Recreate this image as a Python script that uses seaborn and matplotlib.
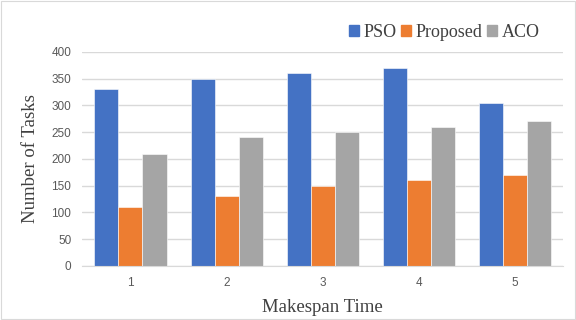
import numpy as np
import pandas as pd
import matplotlib
matplotlib.use("Agg")
import matplotlib.pyplot as plt
import seaborn as sns

# data
makespan = ["1", "2", "3", "4", "5"]
pso = [330, 350, 360, 370, 305]
proposed = [110, 130, 150, 160, 170]
aco = [210, 240, 250, 260, 270]

series_names = ["PSO", "Proposed", "ACO"]
colors = ["#4472C4", "#ED7D31", "#A5A5A5"]

df = pd.DataFrame({"Makespan": makespan, "PSO": pso,
                   "Proposed": proposed, "ACO": aco})
long = df.melt(id_vars="Makespan", var_name="Method", value_name="Tasks")

sns.set_style("white")
fig, ax = plt.subplots(figsize=(5.76, 3.20), dpi=100)
fig.subplots_adjust(left=0.143, right=0.978, top=0.838, bottom=0.169)

sns.barplot(data=long, x="Makespan", y="Tasks", hue="Method",
            hue_order=series_names, palette=colors, saturation=1, width=0.75,
            edgecolor="white", linewidth=0.4, ax=ax, legend=False)

ax.set_ylim(0, 400)
ax.set_yticks(np.arange(0, 401, 50))
ax.yaxis.grid(True, color="#D9D9D9", linewidth=1)
ax.set_axisbelow(True)
for s in ["top", "right", "left"]:
    ax.spines[s].set_visible(False)
ax.spines["bottom"].set_color("#D9D9D9")
ax.tick_params(axis="both", length=0, labelsize=8.5, labelcolor="#595959", pad=8)
for lab in ax.get_xticklabels() + ax.get_yticklabels():
    lab.set_family("Liberation Sans")

serif = "Liberation Serif"
ax.set_xlabel("Makespan Time", family=serif, fontsize=13.5, color="#404040", labelpad=7)
ax.set_ylabel("Number of Tasks", family=serif, fontsize=13.5, color="#404040", labelpad=9)

handles = [plt.Rectangle((0, 0), 1, 1, color=c) for c in colors]
leg = fig.legend(handles, series_names, loc="upper right", ncol=3,
                 bbox_to_anchor=(0.965, 0.975), frameon=False,
                 prop={"family": serif, "size": 13}, handlelength=0.55,
                 handleheight=0.55, handletextpad=0.25, columnspacing=0.25)
for t in leg.get_texts():
    t.set_color("#404040")

fig.patches.append(plt.Rectangle((0.001, 0.002), 0.997, 0.995, transform=fig.transFigure,
                                 fill=False, edgecolor="#D9D9D9", linewidth=0.8))

fig.savefig("out.png", dpi=100)
